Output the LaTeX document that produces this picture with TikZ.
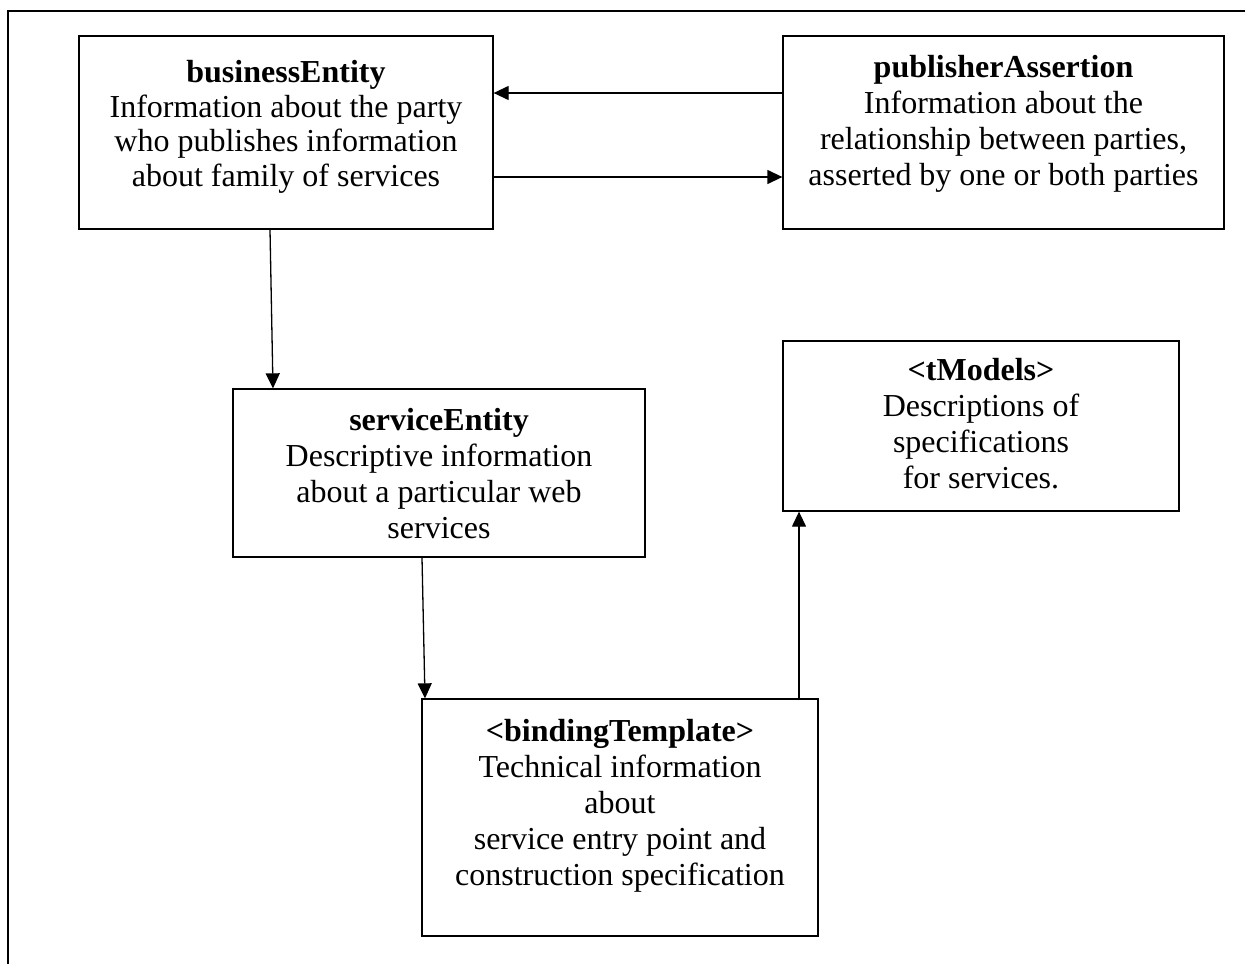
\documentclass[tikz,border=0pt]{standalone}
\usepackage{fontspec}
\setmainfont{Liberation Serif}
\usetikzlibrary{arrows.meta}

\begin{document}
\begin{tikzpicture}[x=1pt,y=-1pt,
  box/.style={draw, line width=1.3pt, rectangle, inner sep=0pt},
  txt/.style={align=center, inner sep=0pt, font=\fontsize{32}{36}\selectfont, anchor=base},
  link/.style={line width=1.3pt, -{Triangle[length=15pt,width=14pt]}}]
\useasboundingbox (0,0) rectangle (1245,964);

% page frame (top and left edges only)
\draw[line width=2pt] (8,964) -- (8,11) -- (1245,11);

% entity boxes
\node[box, minimum width=414pt, minimum height=193pt] (be) at (286,132.5) {};
\node[box, minimum width=441pt, minimum height=193pt] (pa) at (1003.5,132.5) {};
\node[box, minimum width=412pt, minimum height=168pt] (se) at (439,473) {};
\node[box, minimum width=396pt, minimum height=170pt] (tm) at (981,426) {};
\node[box, minimum width=396pt, minimum height=237pt] (bt) at (620,817.5) {};

% box contents (anchored at the baseline of the last line)
\node[txt, font=\fontsize{32}{34.5}\selectfont] (beT) at (286,186) {\textbf{businessEntity}\\Information about the party\\who publishes information\\about family of services};
\node[txt] (paT) at (1003.5,185) {\textbf{publisherAssertion}\\Information about the\\relationship between parties,\\asserted by one or both parties};
\node[txt] (seT) at (439,538) {\textbf{serviceEntity}\\Descriptive information\\about a particular web\\services};
\node[txt] (tmT) at (981,488) {\textbf{<tModels>}\\Descriptions of\\specifications\\for services.};
\node[txt] (btT) at (620,885) {\textbf{<bindingTemplate>}\\Technical information\\about\\service entry point and\\construction specification};

% relations
\draw[link] ([yshift=39.5pt]pa.west) -- ([yshift=39.5pt]be.east);
\draw[link] ([yshift=-44.5pt]be.east) -- ([yshift=-44.5pt]pa.west);
\draw[link] ([xshift=-16pt]be.south) -- ([xshift=-166pt]se.north);
\draw[link] ([xshift=-17pt]se.south) -- ([xshift=-195pt]bt.north);
\draw[link] ([xshift=179pt]bt.north) -- ([xshift=-182pt]tm.south);
\end{tikzpicture}
\end{document}
